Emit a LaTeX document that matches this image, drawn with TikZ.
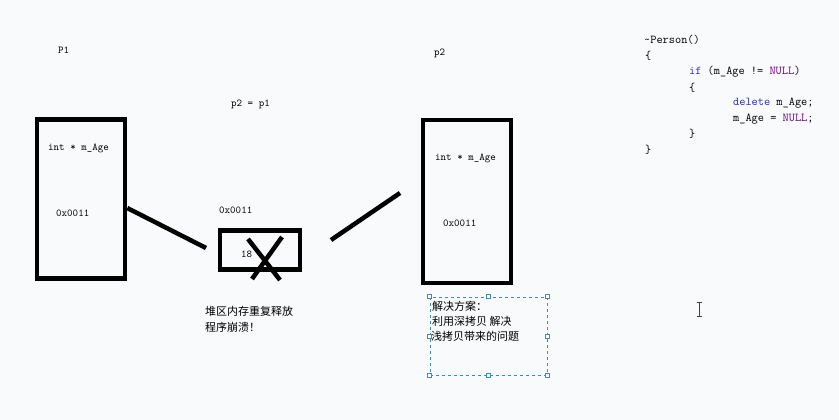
\documentclass[tikz,border=0pt]{standalone}
\usepackage{fontspec}
\newfontfamily\cjk{Noto Sans CJK SC}
\begin{document}
\begin{tikzpicture}[x=1pt,y=-1pt,
  lbl/.style={font=\ttfamily\fontsize{10.5}{11}\selectfont, inner sep=0pt, anchor=west},
  code/.style={font=\ttfamily\fontsize{12}{13}\selectfont, inner sep=0pt, anchor=west},
  zh/.style={font=\cjk\fontsize{11}{12}\selectfont, inner sep=0pt, anchor=west},
  thickbox/.style={draw=black, line width=4.5pt},
  thickline/.style={draw=black, line width=4.5pt},
  handle/.style={draw=dashblue, fill=white, line width=0.6pt, minimum size=4pt, inner sep=0pt},
]
\definecolor{bgc}{RGB}{249,250,251}
\definecolor{kwblue}{RGB}{40,40,200}
\definecolor{nullpurple}{RGB}{111,0,138}
\definecolor{dashblue}{RGB}{60,140,180}
\useasboundingbox (0,0) rectangle (839,420);
\fill[bgc] (0,0) rectangle (839,420);

% left box (p1)
\node[thickbox, minimum width=88pt, minimum height=159pt, inner sep=0pt] (box1) at (81,199) {};
\node[lbl] (p1lbl) at (58,50) {P1};
\node[lbl] (age1) at (48,148) {int * m\_Age};
\node[lbl] (addr1) at (56,213) {0x0011};

% heap box
\node[thickbox, minimum width=80pt, minimum height=39pt, inner sep=0pt] (heap) at (260,250) {};
\node[lbl] (heapaddr) at (219,210) {0x0011};
\node[lbl] (val) at (241,254) {18};
\node[lbl] (assign) at (231,104) {p2 = p1};
\draw[thickline] (248,239) -- (280,280);
\draw[thickline] (282,237) -- (252,279);

% right box (p2)
\node[thickbox, minimum width=88pt, minimum height=163pt, inner sep=0pt] (box2) at (467,201.5) {};
\node[lbl] (p2lbl) at (434,53) {p2};
\node[lbl] (age2) at (435,158) {int * m\_Age};
\node[lbl] (addr2) at (443,223) {0x0011};

% connectors
\coordinate (c1a) at (box1.east |- 0,208);
\coordinate (c1b) at (206,248);
\draw[thickline] (c1a) -- (c1b);
\coordinate (c2a) at (331,240);
\coordinate (c2b) at (400,193);
\draw[thickline] (c2a) -- (c2b);

% crash text
\node[zh] (crash1) at (205,311) {堆区内存重复释放};
\node[zh] (crash2) at (205,327) {程序崩溃！};

% dashed text box
\node[draw=dashblue, dashed, line width=0.7pt, minimum width=117pt, minimum height=78pt, inner sep=0pt] (sol) at (488.5,336) {};
\node[zh] (s1) at (432,306) {解决方案：};
\node[zh] (s2) at (432,321) {利用深拷贝 解决};
\node[zh] (s3) at (431,336) {浅拷贝带来的问题};
\foreach \p [count=\i] in {north west,north,north east,west,east,south west,south,south east}
  \node[handle] (h\i) at (sol.\p) {};

% code
\node[code] (k1) at (644,40) {\textasciitilde Person()};
\node[code] (k2) at (645,56) {\{};
\node[code] (k3) at (689,72) {\textcolor{kwblue}{if} (m\_Age != \textcolor{nullpurple}{NULL})};
\node[code] (k4) at (689,88) {\{};
\node[code] (k5) at (733,103) {\textcolor{kwblue}{delete} m\_Age;};
\node[code] (k6) at (733,119) {m\_Age = \textcolor{nullpurple}{NULL};};
\node[code] (k7) at (689,134) {\}};
\node[code] (k8) at (645,150) {\}};

% text cursor
\draw[black!75, line width=1pt] (699,302) -- (699,316);
\draw[black!75, line width=0.8pt] (696.5,302) -- (701.5,302) (696.5,316) -- (701.5,316);
\end{tikzpicture}
\end{document}
